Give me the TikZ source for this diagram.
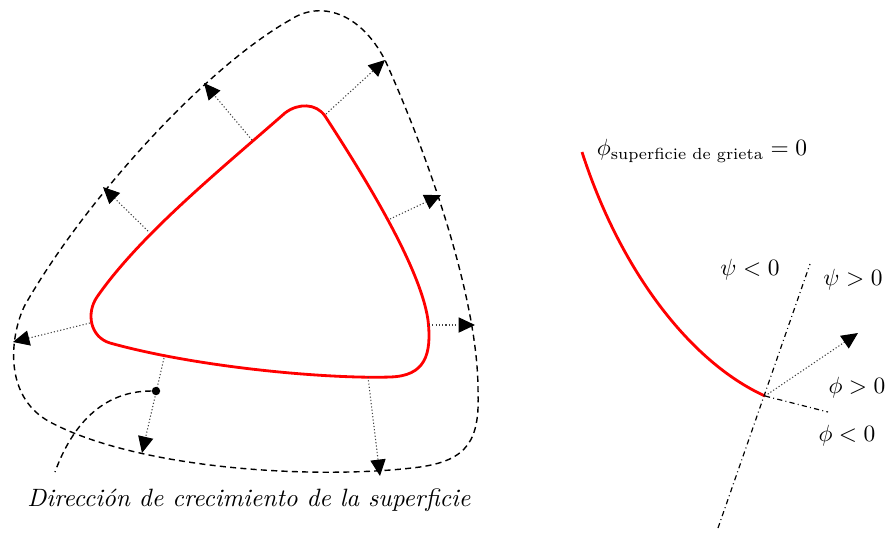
\documentclass[tikz,border=0pt]{standalone}
\usepackage{amsmath,amssymb}
\usepackage{xcolor}
\usepackage{tikz}
\usetikzlibrary{arrows.meta,positioning,calc}
\tikzset{
  frente/.style={red,line width=1.2pt},
  contorno/.style={black,line width=0.6pt,dash pattern=on 2.6pt off 1.8pt},
  ejes/.style={black,line width=0.5pt,dash pattern=on 2.2pt off 1.4pt on 0.4pt off 1.4pt},
  flecha/.style={-{Triangle[length=7pt,width=6.5pt,black]},black!75,line width=0.45pt,
                 dash pattern=on 0.5pt off 0.9pt},
  punto/.style={circle,fill=black,inner sep=0pt,minimum size=3.6pt},
  rotulo/.style={inner sep=1pt,font=\normalsize}}

\begin{document}
\begin{tikzpicture}[x=0.015cm,y=-0.015cm]
  \useasboundingbox (0,0) rectangle (886,540);
  % frente de grieta cerrado y su avance
  \draw[frente] (97,297) .. controls (140,235) and (220,170) .. (285,113)
    .. controls (298,103) and (316,103) .. (325,116)
    .. controls (360,170) and (420,265) .. (428,320)
    .. controls (432,355) and (425,376) .. (390,377)
    .. controls (330,379) and (200,368) .. (110,343)
    .. controls (90,337) and (86,313) .. (97,297) -- cycle;
  \draw[contorno] (290,20) .. controls (205,68) and (85,200) .. (25,305)
    .. controls (12,330) and (0,395) .. (50,422)
    .. controls (140,470) and (320,480) .. (420,467)
    .. controls (468,460) and (480,440) .. (478,390)
    .. controls (478,300) and (430,160) .. (385,60)
    .. controls (360,12) and (320,0) .. (290,20) -- cycle;
  % normales
  \coordinate (a1) at (148,231);  \coordinate (b1) at (103,187);
  \coordinate (a2) at (252,140);  \coordinate (b2) at (204,83);
  \coordinate (a3) at (326,114);  \coordinate (b3) at (385,60);
  \coordinate (a4) at (390,219);  \coordinate (b4) at (441,195);
  \coordinate (a5) at (429,325);  \coordinate (b5) at (475,325);
  \coordinate (a6) at (368,377);  \coordinate (b6) at (380,476);
  \coordinate (a7) at (164,358);  \coordinate (b7) at (142,453);
  \coordinate (a8) at (90,323);   \coordinate (b8) at (13,342);
  \draw[flecha] (a1) -- (b1);
  \draw[flecha] (a2) -- (b2);
  \draw[flecha] (a3) -- (b3);
  \draw[flecha] (a4) -- (b4);
  \draw[flecha] (a5) -- (b5);
  \draw[flecha] (a6) -- (b6);
  \draw[flecha] (a7) -- (b7);
  \draw[flecha] (a8) -- (b8);
  \node[punto] (p) at (156,391) {};
  \coordinate (e) at (55,472);
  \draw[contorno] (p) to[out=180,in=70] (e);
  \node[rotulo,font=\fontsize{10.7pt}{13pt}\selectfont] (dir) at (249,500)
    {\textit{Dirección de crecimiento de la superficie}};
  % grieta abierta
  \coordinate (o) at (765,396);
  \draw[frente] (582,152) .. controls (620,270) and (690,362) .. (o);
  \coordinate (psiA) at (718,528);
  \coordinate (psiB) at (810,264);
  \coordinate (phiB) at (828,412);
  \coordinate (n) at (858,333);
  \draw[ejes] (psiA) -- (psiB);
  \draw[ejes] (o) -- (phiB);
  \draw[flecha] (o) -- (n);
  \node[rotulo,font=\fontsize{9.8pt}{11pt}\selectfont] (sup) at (702,151)
    {$\phi_{\text{superficie de grieta}} = 0$};
  \node[rotulo] (psineg) at (750,270) {$\psi < 0$};
  \node[rotulo] (psipos) at (853,280) {$\psi > 0$};
  \node[rotulo] (phipos) at (857,388) {$\phi > 0$};
  \node[rotulo] (phineg) at (847,436) {$\phi < 0$};
\end{tikzpicture}
\end{document}
